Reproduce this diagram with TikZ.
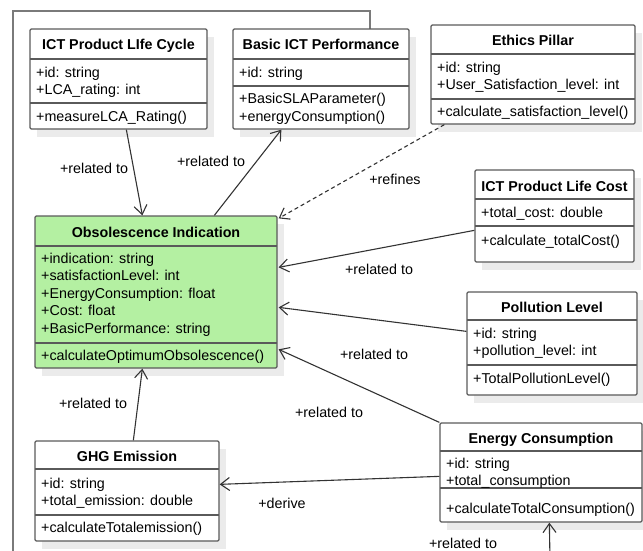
\documentclass[tikz,border=0pt]{standalone}
\usepackage{fontspec}
\setmainfont{Liberation Sans}
\usetikzlibrary{arrows.meta,fit}
\definecolor{boxc}{HTML}{5A5A5A}
\definecolor{shadowc}{HTML}{EBEBEB}
\definecolor{greenc}{HTML}{B4F0A2}
\definecolor{framec}{HTML}{7A7A7A}
\definecolor{linec}{HTML}{333333}
\tikzset{
  box/.style={draw=boxc, line width=1.3pt, rounded corners=1.2pt, inner sep=0pt},
  divl/.style={draw=boxc, line width=1.3pt},
  titlet/.style={inner sep=0pt, anchor=base, font=\fontsize{14.3}{17.5}\selectfont\bfseries},
  bodyt/.style={inner sep=0pt, anchor=base west, font=\fontsize{14.3}{17.5}\selectfont},
  lbl/.style={inner sep=0pt, font=\fontsize{14.3}{17.5}\selectfont},
  assoc/.style={draw=linec, line width=1.1pt, -{Straight Barb[length=9pt,width=13pt,line width=1.1pt]}},
  refine/.style={assoc, dash pattern=on 4pt off 3pt},
}
% name, x1, y1, x2, y2, fill, header bottom, attribute bottom
\newcommand\umlbox[8]{%
  \fill[shadowc] (#2+7,#3+8) rectangle (#4+7,#5+8);
  \node[box, fill=#6, fit={(#2,#3)(#4,#5)}] (#1) {};
  \draw[divl] (#2,#7) -- (#4,#7);
  \draw[divl] (#2,#8) -- (#4,#8);
}
\begin{document}
\begin{tikzpicture}[x=1pt,y=-1pt]
\useasboundingbox (0,0) rectangle (643,550);
% package frame
\draw[framec, line width=1.3pt] (13,560) -- (13,11) -- (370,11) -- (370,29);

% ICT Product LIfe Cycle
\umlbox{lc}{30}{29}{207}{129}{white}{59}{103}
\node[titlet] (lct) at (118.5,49) {ICT Product LIfe Cycle};
\node[bodyt] (lca1) at (36,77) {+id: string};
\node[bodyt] (lca2) at (36,94.5) {+LCA\_rating: int};
\node[bodyt] (lcm1) at (36,121) {+measureLCA\_Rating()};

% Basic ICT Performance
\umlbox{bp}{233}{29}{409}{129}{white}{59}{86}
\node[titlet] (bpt) at (321,49) {Basic ICT Performance};
\node[bodyt] (bpa1) at (239,77) {+id: string};
\node[bodyt] (bpm1) at (239,103.5) {+BasicSLAParameter()};
\node[bodyt] (bpm2) at (239,121) {+energyConsumption()};

% Ethics Pillar
\umlbox{ep}{431}{25}{635}{124}{white}{54}{99}
\node[titlet] (ept) at (533,45) {Ethics Pillar};
\node[bodyt] (epa1) at (437,72) {+id: string};
\node[bodyt] (epa2) at (437,89.5) {+User\_Satisfaction\_level: int};
\node[bodyt] (epm1) at (437,116.5) {+calculate\_satisfaction\_level()};

% ICT Product Life Cost
\umlbox{lcost}{475}{170}{634}{262}{white}{199}{226}
\node[titlet] (lcostt) at (554.5,191) {ICT Product Life Cost};
\node[bodyt] (lcosta1) at (481,217) {+total\_cost: double};
\node[bodyt] (lcostm1) at (481,245) {+calculate\_totalCost()};

% Pollution Level
\umlbox{pl}{467}{292}{637}{395}{white}{320}{365}
\node[titlet] (plt) at (552,312) {Pollution Level};
\node[bodyt] (pla1) at (473,338) {+id: string};
\node[bodyt] (pla2) at (473,355.5) {+pollution\_level: int};
\node[bodyt] (plm1) at (473,383) {+TotalPollutionLevel()};

% Obsolescence Indication
\umlbox{obs}{35}{216}{277}{368}{greenc}{246}{343}
\node[titlet] (obst) at (156,237) {Obsolescence Indication};
\node[bodyt] (obsa1) at (41,263) {+indication: string};
\node[bodyt] (obsa2) at (41,280.5) {+satisfactionLevel: int};
\node[bodyt] (obsa3) at (41,298) {+EnergyConsumption: float};
\node[bodyt] (obsa4) at (41,315.5) {+Cost: float};
\node[bodyt] (obsa5) at (41,333) {+BasicPerformance: string};
\node[bodyt] (obsm1) at (41,360) {+calculateOptimumObsolescence()};

% GHG Emission
\umlbox{ghg}{35}{441}{219}{541}{white}{469}{515}
\node[titlet] (ghgt) at (127,461) {GHG Emission};
\node[bodyt] (ghga1) at (41,488) {+id: string};
\node[bodyt] (ghga2) at (41,505.5) {+total\_emission: double};
\node[bodyt] (ghgm1) at (41,532) {+calculateTotalemission()};

% Energy Consumption
\umlbox{ec}{440}{423}{642}{522}{white}{451}{488}
\node[titlet] (ect) at (541,443) {Energy Consumption};
\node[bodyt] (eca1) at (446,468) {+id: string};
\node[bodyt] (eca2) at (446,485) {+total\_consumption};
\node[bodyt] (ecm1) at (446,513) {+calculateTotalConsumption()};

% connectors
\coordinate (below) at (550,560);
\draw[assoc] ([shift={(97,0)}]lc.south west) -- ([shift={(108,0)}]obs.north west);
\draw[assoc] ([shift={(180,0)}]obs.north west) -- ([shift={(49,0)}]bp.south west);
\draw[refine] ([shift={(14,0)}]ep.south west) -- ([shift={(1,3)}]obs.north east);
\draw[assoc] ([shift={(0,61)}]lcost.north west) -- ([shift={(1,52)}]obs.north east);
\draw[assoc] ([shift={(0,40)}]pl.north west) -- ([shift={(1,92)}]obs.north east);
\draw[assoc] (ec.north west) -- ([shift={(1,134)}]obs.north east);
\draw[assoc] ([shift={(99,0)}]ghg.north west) -- ([shift={(108,0)}]obs.south west);
\draw[assoc] ([shift={(0,54)}]ec.north west) -- ([shift={(0,44)}]ghg.north east);
\draw[assoc] (below) -- ([shift={(110,0)}]ec.south west);

% labels
\node[lbl] (l1) at (94,168) {+related to};
\node[lbl] (l2) at (211,161) {+related to};
\node[lbl] (l3) at (395,179) {+refines};
\node[lbl] (l4) at (379,269) {+related to};
\node[lbl] (l5) at (374,354) {+related to};
\node[lbl] (l6) at (329,412) {+related to};
\node[lbl] (l7) at (93,403) {+related to};
\node[lbl] (l8) at (282,503) {+derive};
\node[lbl] (l9) at (463,543) {+related to};
\end{tikzpicture}
\end{document}
